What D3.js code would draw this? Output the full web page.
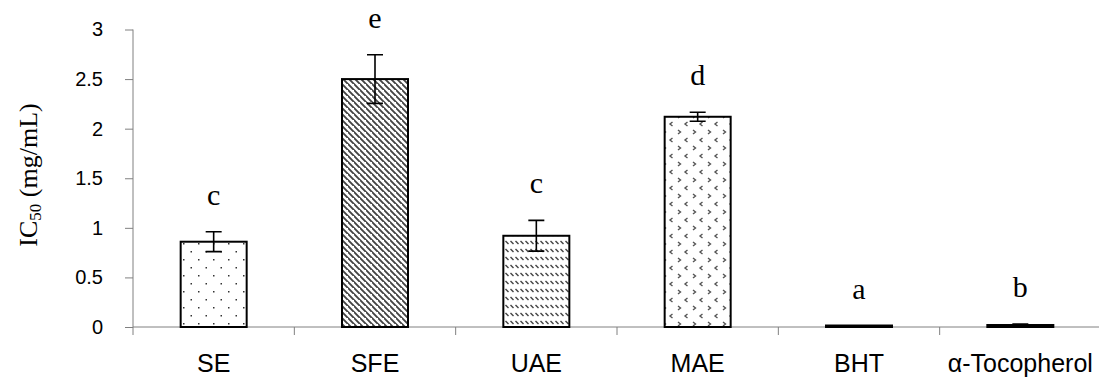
<!DOCTYPE html>
<html><head><meta charset="utf-8">
<script src="https://cdn.jsdelivr.net/npm/d3@7"></script>
<style>body{margin:0;background:#fff}svg{display:block}</style>
</head><body>
<svg id="c" width="1099" height="378"></svg>
<script>
const categories = ["SE","SFE","UAE","MAE","BHT","α-Tocopherol"];
const values = [0.86, 2.50, 0.92, 2.12, 0.015, 0.02];
const errors = [0.10, 0.245, 0.155, 0.045, 0.0, 0.01];
const letters = ["c","e","c","d","a","b"];
const patterns = ["dots","diag","dash","chev","solid","solid"];
const yTicks = [0,0.5,1,1.5,2,2.5,3];

const svg = d3.select("#c");
const x0 = 133, x1 = 1101, yTop = 29.5, yBot = 327;
const x = d3.scaleBand().domain(categories).range([x0, x1]).paddingInner(0).paddingOuter(0);
const y = d3.scaleLinear().domain([0,3]).range([yBot, yTop]);
const defs = svg.append("defs");

// dots
let p = defs.append("pattern").attr("id","dots").attr("patternUnits","userSpaceOnUse").attr("width",15).attr("height",16);
p.append("rect").attr("width",15).attr("height",16).attr("fill","#fff");
p.append("rect").attr("x",3).attr("y",3).attr("width",1.5).attr("height",1.5).attr("fill","#333");
p.append("rect").attr("x",10.5).attr("y",11).attr("width",1.5).attr("height",1.5).attr("fill","#333");
// diagonal stripes
p = defs.append("pattern").attr("id","diag").attr("patternUnits","userSpaceOnUse").attr("width",6).attr("height",6);
p.append("rect").attr("width",6).attr("height",6).attr("fill","#fff");
p.append("path").attr("d","M-1,-1L7,7M-4,2L2,8M4,-4L10,2").attr("stroke","#444").attr("stroke-width",1.9);
// dashed hatch rows
p = defs.append("pattern").attr("id","dash").attr("patternUnits","userSpaceOnUse").attr("width",5).attr("height",8);
p.append("rect").attr("width",5).attr("height",8).attr("fill","#fff");
p.append("path").attr("d","M0.5,1L3.5,4").attr("stroke","#444").attr("stroke-width",1.4);
// chevrons
p = defs.append("pattern").attr("id","chev").attr("patternUnits","userSpaceOnUse").attr("width",15).attr("height",16);
p.append("rect").attr("width",15).attr("height",16).attr("fill","#fff");
p.append("path").attr("d","M3,2L5.5,4L3,6").attr("fill","none").attr("stroke","#555").attr("stroke-width",1.4);
p.append("path").attr("d","M12.5,10L10,12L12.5,14").attr("fill","none").attr("stroke","#555").attr("stroke-width",1.4);

// axes
const gy = svg.append("g").attr("transform",`translate(${x0},0)`)
  .call(d3.axisLeft(y).tickValues(yTicks).tickSize(8).tickPadding(22).tickFormat(d=>String(d)));
gy.select(".domain").attr("stroke","#808080").attr("d",`M0,${yTop}V${yBot+8}`);
gy.selectAll(".tick line").attr("stroke","#808080");
gy.selectAll(".tick text").attr("font-family","Liberation Sans, Arial, sans-serif").attr("font-size",20).attr("fill","#000");

const gx = svg.append("g").attr("transform",`translate(0,${yBot})`);
gx.append("line").attr("x1",x0).attr("x2",1099).attr("y1",0).attr("y2",0).attr("stroke","#808080");
gx.selectAll("line.t").data(categories.slice(1)).join("line").attr("class","t")
  .attr("x1",d=>x(d)).attr("x2",d=>x(d)).attr("y1",0).attr("y2",8).attr("stroke","#808080");
gx.selectAll("text").data(categories).join("text")
  .attr("x",d=>x(d)+x.bandwidth()/2).attr("y",45).attr("text-anchor","middle")
  .attr("font-family","Liberation Sans, Arial, sans-serif").attr("font-size",25).text(d=>d);

// bars
const bw = 66;
const bars = svg.append("g");
categories.forEach((c,i)=>{
  const cx = x(c)+x.bandwidth()/2;
  const h = yBot - y(values[i]);
  bars.append("rect").attr("x",cx-bw/2).attr("y",y(values[i])).attr("width",bw).attr("height",Math.max(h,0.5))
    .attr("fill", patterns[i]==="solid" ? "#000" : `url(#${patterns[i]})`)
    .attr("stroke","#000").attr("stroke-width",2);
  if (errors[i] > 0) {
    const t = y(values[i]+errors[i]), b = y(values[i]-errors[i]);
    bars.append("path").attr("d",`M${cx},${t}V${b}M${cx-8},${t}H${cx+8}M${cx-8},${b}H${cx+8}`)
      .attr("stroke","#000").attr("stroke-width",1.6).attr("fill","none");
  }
  bars.append("text").attr("x",cx).attr("y",y(values[i]+errors[i])-27).attr("text-anchor","middle")
    .attr("font-family","Liberation Serif, Times New Roman, serif").attr("font-size",30).text(letters[i]);
});

// y title
const tt = svg.append("text").attr("transform","translate(37,175) rotate(-90)").attr("text-anchor","middle")
  .attr("font-family","Liberation Serif, Times New Roman, serif").attr("font-size",26);
tt.append("tspan").text("IC");
tt.append("tspan").attr("font-size",17).attr("dy",4).text("50");
tt.append("tspan").attr("dy",-4).text(" (mg/mL)");
</script>
</body></html>
